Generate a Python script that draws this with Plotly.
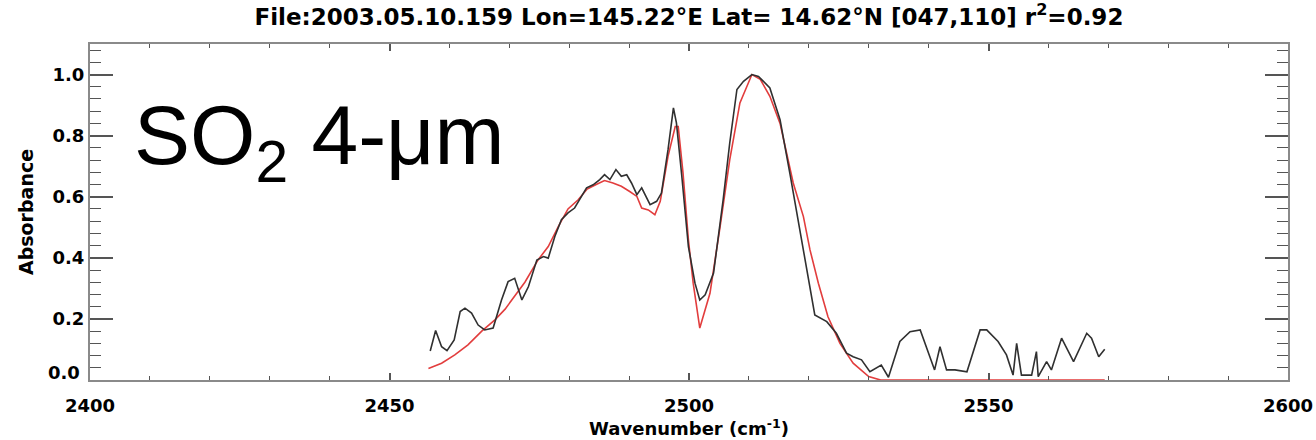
import plotly.graph_objects as go

# Observed absorbance spectrum (black)
obs_wn = [2456.8, 2457.7, 2458.7, 2459.6, 2460.8, 2461.8, 2462.6, 2463.7, 2464.8, 2465.9,
          2467.3, 2468.7, 2469.8, 2470.9, 2472.1, 2473.2, 2474.6, 2475.7, 2476.5, 2477.6,
          2478.7, 2479.8, 2480.9, 2482.1, 2482.9, 2484.0, 2485.1, 2485.9, 2486.8, 2487.8,
          2488.7, 2489.6, 2490.4, 2491.3, 2492.1, 2493.5, 2494.6, 2495.4, 2496.5, 2497.4,
          2497.9, 2498.8, 2499.9, 2501.0, 2501.8, 2502.7, 2504.1, 2505.7, 2506.8, 2508.0,
          2509.1, 2510.5, 2511.6, 2513.5, 2515.2, 2516.9, 2518.5, 2519.9, 2521.0, 2523.0,
          2524.6, 2526.3, 2527.4, 2528.8, 2530.2, 2532.1, 2533.3, 2535.2, 2536.9, 2538.6,
          2539.8, 2541.0, 2541.9, 2543.0, 2544.4, 2546.4, 2548.6, 2549.7, 2551.6, 2553.0,
          2554.1, 2554.7, 2555.5, 2557.2, 2558.0, 2558.3, 2559.7, 2560.5, 2562.2, 2564.2,
          2566.4, 2567.2, 2568.4, 2569.4]
obs_abs = [0.095, 0.162, 0.109, 0.096, 0.131, 0.224, 0.235, 0.219, 0.180, 0.164,
           0.170, 0.262, 0.322, 0.333, 0.262, 0.306, 0.393, 0.404, 0.399, 0.470,
           0.525, 0.547, 0.563, 0.601, 0.629, 0.639, 0.656, 0.672, 0.656, 0.689,
           0.667, 0.672, 0.645, 0.607, 0.629, 0.574, 0.585, 0.612, 0.754, 0.891,
           0.842, 0.667, 0.437, 0.317, 0.262, 0.279, 0.350, 0.590, 0.776, 0.951,
           0.978, 1.000, 0.994, 0.956, 0.852, 0.670, 0.487, 0.335, 0.213, 0.191,
           0.153, 0.088, 0.076, 0.066, 0.027, 0.049, 0.009, 0.126, 0.158, 0.164,
           0.098, 0.033, 0.109, 0.033, 0.033, 0.027, 0.164, 0.164, 0.126, 0.082,
           0.016, 0.120, 0.016, 0.016, 0.093, 0.011, 0.060, 0.033, 0.137, 0.060,
           0.153, 0.137, 0.076, 0.101]

# Model fit (red)
fit_wn = [2456.5, 2458.7, 2460.9, 2463.1, 2465.4, 2467.6, 2469.3, 2470.9, 2472.6, 2474.8,
          2476.5, 2478.2, 2479.8, 2481.5, 2483.0, 2484.5, 2485.9, 2487.3, 2488.7, 2490.1,
          2491.3, 2492.1, 2493.2, 2494.3, 2495.2, 2496.5, 2497.7, 2498.2, 2499.0, 2499.9,
          2500.7, 2501.8, 2503.5, 2505.2, 2506.8, 2508.5, 2510.5, 2511.9, 2513.5, 2515.2,
          2517.4, 2519.1, 2520.2, 2521.6, 2523.2, 2525.2, 2527.4, 2530.0, 2532.0, 2569.4]
fit_abs = [0.038, 0.055, 0.082, 0.115, 0.160, 0.197, 0.232, 0.275, 0.320, 0.393,
           0.437, 0.503, 0.560, 0.590, 0.625, 0.640, 0.653, 0.645, 0.634, 0.617,
           0.601, 0.563, 0.557, 0.541, 0.585, 0.732, 0.830, 0.830, 0.678, 0.459,
           0.317, 0.170, 0.284, 0.503, 0.721, 0.907, 1.000, 0.984, 0.929, 0.840,
           0.645, 0.535, 0.426, 0.317, 0.207, 0.120, 0.055, 0.011, 0.0, 0.0]

y_ticks = [0.0, 0.2, 0.4, 0.6, 0.8, 1.0]
x_ticks = [2400, 2450, 2500, 2550, 2600]

title_text = "File:2003.05.10.159 Lon=145.22°E Lat= 14.62°N [047,110] r<sup>2</sup>=0.92"
label_text = "SO<sub>2</sub> 4-μm"

BOLD = "DejaVu Sans"
frame_col = "#8a8a8a"
tick_col = "#555555"

fig = go.Figure()
fig.add_trace(go.Scatter(x=fit_wn, y=fit_abs, mode="lines",
                         line=dict(color="#e23d3d", width=1.6), showlegend=False))
fig.add_trace(go.Scatter(x=obs_wn, y=obs_abs, mode="lines",
                         line=dict(color="#303030", width=1.6), showlegend=False))

# y tick labels: the bottom one sits a little above its tick, clear of the x labels
y_ticktext = ["" if v == 0 else f"<b>{v:.1f}</b>" for v in y_ticks]

fig.update_layout(
    width=1316, height=440,
    margin=dict(l=90, r=28, t=44, b=60, autoexpand=False),
    paper_bgcolor="white", plot_bgcolor="white",
    font=dict(family=BOLD, color="black"),
    title=dict(text="<b>" + title_text + "</b>", x=0.5235, xanchor="center",
               y=0.962, yanchor="middle", font=dict(family=BOLD, size=23)),
    annotations=[
        dict(text=label_text, x=2407.0, y=0.963, xref="x", yref="y",
             xanchor="left", yanchor="top", showarrow=False,
             font=dict(family="Liberation Sans", size=84, color="black")),
        dict(text=f"<b>{y_ticks[0]:.1f}</b>", x=-0.0067, y=0.023, xref="paper", yref="y",
             xanchor="right", yanchor="middle", showarrow=False,
             font=dict(family=BOLD, size=18, color="black")),
    ],
)

fig.update_xaxes(
    range=[2400, 2600], tickvals=x_ticks, ticktext=[f"<b>{v}</b>" for v in x_ticks],
    showgrid=False, zeroline=False, automargin=False,
    showline=True, linecolor=frame_col, linewidth=2, mirror="allticks",
    ticks="inside", ticklen=7, tickwidth=1.5, tickcolor=tick_col,
    minor=dict(dtick=10, tick0=2400, ticks="inside", ticklen=4, tickwidth=1.2,
               tickcolor=tick_col, showgrid=False),
    tickfont=dict(family=BOLD, size=18), ticklabelstandoff=8,
    title=dict(text="<b>Wavenumber (cm<sup>-1</sup>)</b>", font=dict(family=BOLD, size=18),
               standoff=4),
)
fig.update_yaxes(
    range=[0, 1.1], tickvals=y_ticks, ticktext=y_ticktext,
    showgrid=False, zeroline=False, automargin=False,
    showline=True, linecolor=frame_col, linewidth=2, mirror="allticks",
    ticks="inside", ticklen=23, tickwidth=1.5, tickcolor=tick_col,
    minor=dict(dtick=0.04, tick0=0, ticks="inside", ticklen=11, tickwidth=1.2,
               tickcolor=tick_col, showgrid=False),
    tickfont=dict(family=BOLD, size=18),
    title=dict(text="<b>Absorbance</b>", font=dict(family=BOLD, size=19), standoff=14),
)

fig.write_html("out.html")
